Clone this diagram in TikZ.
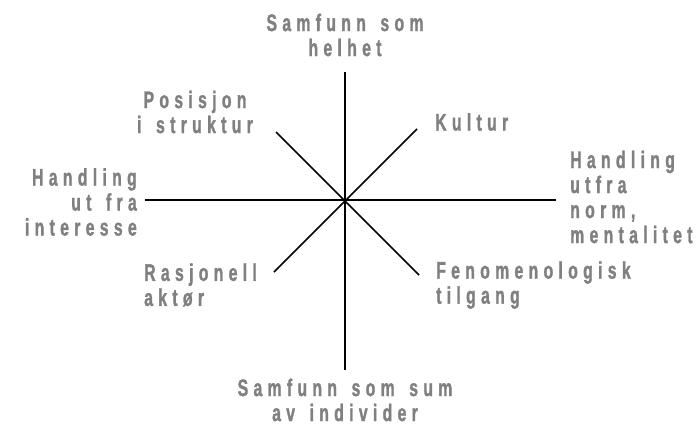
\documentclass[tikz,border=0pt]{standalone}
\usepackage{fontspec}
\newfontfamily\labfont{Liberation Sans Bold}[FakeStretch=0.66,LetterSpace=22,WordSpace=1.5,FakeBold=1.2]
\usetikzlibrary{positioning}
\tikzset{
  lbl/.style={font=\labfont\fontsize{24}{25}\selectfont, text=black!50, inner sep=0pt},
  axis/.style={line width=1.5pt, draw=black},
}

\begin{document}
\begin{tikzpicture}[x=1pt,y=-1pt]
  \useasboundingbox (0,0) rectangle (697,426);
  \coordinate (c) at (345,200);
  \coordinate (n) at (345,72);
  \coordinate (s) at (345,370);
  \coordinate (w) at (145,200);
  \coordinate (e) at (556,200);
  \coordinate (nw) at (276,132);
  \coordinate (ne) at (417,129);
  \coordinate (sw) at (274,272);
  \coordinate (se) at (419,275);
  \draw[axis] (n)--(s);
  \draw[axis] (w)--(e);
  \draw[axis] (nw)--(se);
  \draw[axis] (ne)--(sw);
  \node[lbl, align=center] (top) at (345,35) {Samfunn som\\helhet};
  \node[lbl, align=center] (pos) at (195,112) {Posisjon\\i struktur};
  \node[lbl, anchor=west] (kul) at (435,122) {Kultur};
  \node[lbl, anchor=east, align=right] (hint) at (137,202) {Handling\\ut fra\\interesse};
  \node[lbl, anchor=west, align=left] (hnorm) at (570,197) {Handling\\utfra\\norm,\\mentalitet};
  \node[lbl, anchor=west, align=left] (ras) at (144,285) {Rasjonell\\aktør};
  \node[lbl, anchor=west, align=left] (fen) at (436,285) {Fenomenologisk\\tilgang};
  \node[lbl, align=center] (bot) at (345,400) {Samfunn som sum\\av individer};
\end{tikzpicture}
\end{document}
